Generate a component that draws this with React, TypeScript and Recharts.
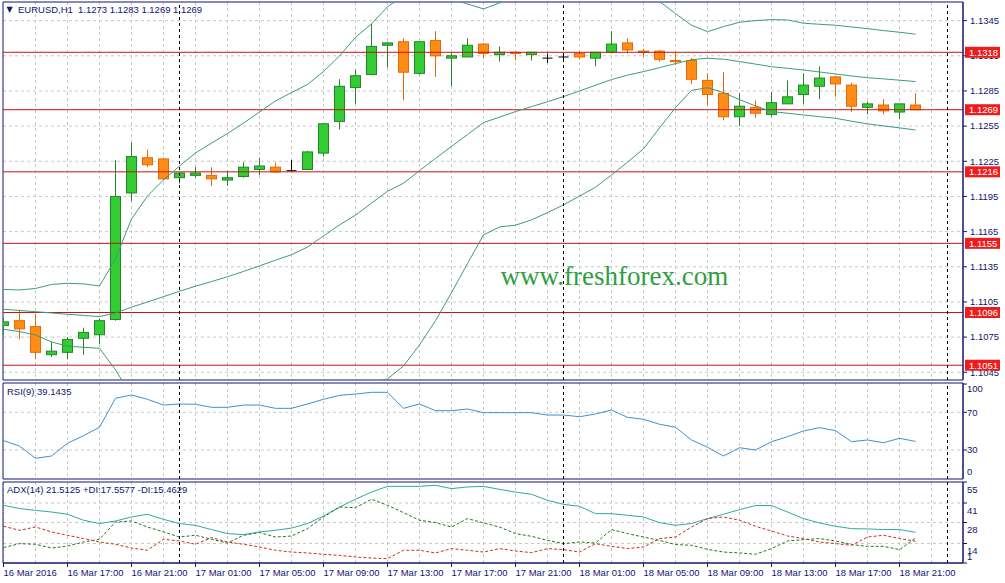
import React from "react";
import {
  ComposedChart,
  Bar,
  Line,
  XAxis,
  YAxis,
  CartesianGrid,
  ReferenceLine,
  ReferenceArea,
} from "recharts";

// EURUSD H1, 16 Mar 2016 13:00 .. 18 Mar 2016 22:00 (one entry per hour)
const open = [1.1085, 1.1089, 1.1084, 1.1060, 1.1062, 1.1074, 1.1077, 1.1090, 1.1198, 1.1228, 1.1227, 1.1211, 1.1213, 1.1213, 1.1209, 1.1212, 1.1218, 1.1220, 1.1217, 1.1218, 1.1232, 1.1259, 1.1288, 1.1299, 1.1324, 1.1327, 1.1300, 1.1328, 1.1313, 1.1314, 1.1325, 1.1316, 1.1318, 1.1316, 1.1313, 1.1314, 1.1317, 1.1313, 1.1318, 1.1326, 1.1319, 1.1319, 1.1311, 1.1311, 1.1294, 1.1283, 1.1263, 1.1271, 1.1265, 1.1274, 1.1282, 1.1289, 1.1297, 1.1290, 1.1271, 1.1273, 1.1267, 1.1273];
const high = [1.1091, 1.1098, 1.1095, 1.1071, 1.1075, 1.1083, 1.1091, 1.1226, 1.1241, 1.1235, 1.1228, 1.1215, 1.1220, 1.1220, 1.1217, 1.1224, 1.1228, 1.1224, 1.1226, 1.1234, 1.1257, 1.1295, 1.1303, 1.1342, 1.1327, 1.1330, 1.1327, 1.1336, 1.1318, 1.1330, 1.1326, 1.1323, 1.1318, 1.1318, 1.1317, 1.1316, 1.1319, 1.1318, 1.1336, 1.1330, 1.1321, 1.1320, 1.1318, 1.1313, 1.1300, 1.1301, 1.1283, 1.1277, 1.1284, 1.1294, 1.1300, 1.1306, 1.1297, 1.1292, 1.1276, 1.1278, 1.1274, 1.1283];
const low = [1.1077, 1.1073, 1.1056, 1.1058, 1.1056, 1.1060, 1.1069, 1.1089, 1.1191, 1.1220, 1.1209, 1.1206, 1.1211, 1.1204, 1.1204, 1.1211, 1.1213, 1.1215, 1.1216, 1.1218, 1.1229, 1.1252, 1.1274, 1.1299, 1.1305, 1.1277, 1.1299, 1.1297, 1.1289, 1.1314, 1.1313, 1.1310, 1.1311, 1.1311, 1.1309, 1.1312, 1.1312, 1.1306, 1.1317, 1.1317, 1.1314, 1.1310, 1.1307, 1.1291, 1.1273, 1.1260, 1.1255, 1.1262, 1.1263, 1.1274, 1.1274, 1.1278, 1.1280, 1.1267, 1.1265, 1.1265, 1.1261, 1.1269];
const close = [1.1088, 1.1082, 1.1062, 1.1063, 1.1073, 1.1079, 1.1089, 1.1195, 1.1229, 1.1222, 1.1210, 1.1215, 1.1215, 1.1210, 1.1211, 1.1220, 1.1221, 1.1216, 1.1217, 1.1233, 1.1257, 1.1289, 1.1298, 1.1323, 1.1326, 1.1301, 1.1327, 1.1315, 1.1315, 1.1324, 1.1317, 1.1318, 1.1317, 1.1318, 1.1313, 1.1314, 1.1314, 1.1318, 1.1325, 1.1320, 1.1318, 1.1312, 1.1310, 1.1295, 1.1282, 1.1263, 1.1272, 1.1266, 1.1275, 1.1280, 1.1290, 1.1296, 1.1291, 1.1272, 1.1274, 1.1268, 1.1274, 1.1269];

// Bollinger bands
const bbUpper = [1.11157, 1.11152, 1.11165, 1.11199, 1.11209, 1.11204, 1.11186, 1.11417, 1.11758, 1.11954, 1.12091, 1.12210, 1.12321, 1.12405, 1.12487, 1.12576, 1.12670, 1.12765, 1.12836, 1.12906, 1.13015, 1.13149, 1.13308, 1.13422, 1.13569, 1.13661, 1.13678, 1.13669, 1.13635, 1.13592, 1.13550, 1.13601, 1.13652, 1.13686, 1.13712, 1.13729, 1.13746, 1.13763, 1.13755, 1.13729, 1.13678, 1.13614, 1.13510, 1.13411, 1.13356, 1.13399, 1.13436, 1.13450, 1.13459, 1.13456, 1.13428, 1.13419, 1.13411, 1.13396, 1.13382, 1.13365, 1.13351, 1.13334];
const bbMiddle = [1.10988, 1.10977, 1.10967, 1.10956, 1.10945, 1.10935, 1.10925, 1.10956, 1.11005, 1.11050, 1.11095, 1.11141, 1.11184, 1.11224, 1.11265, 1.11310, 1.11358, 1.11406, 1.11453, 1.11518, 1.11613, 1.11707, 1.11790, 1.11893, 1.11994, 1.12063, 1.12170, 1.12274, 1.12377, 1.12478, 1.12580, 1.12627, 1.12674, 1.12716, 1.12758, 1.12802, 1.12850, 1.12899, 1.12947, 1.12985, 1.13015, 1.13049, 1.13083, 1.13117, 1.13129, 1.13121, 1.13101, 1.13079, 1.13057, 1.13043, 1.13029, 1.13012, 1.12995, 1.12978, 1.12963, 1.12953, 1.12942, 1.12930];
const bbLower = [1.10817, 1.10797, 1.10768, 1.10709, 1.10672, 1.10663, 1.10655, 1.10470, 1.10251, 1.10146, 1.10103, 1.10072, 1.10047, 1.10043, 1.10043, 1.10043, 1.10045, 1.10047, 1.10069, 1.10128, 1.10214, 1.10265, 1.10274, 1.10364, 1.10393, 1.10504, 1.10683, 1.10890, 1.11129, 1.11378, 1.11622, 1.11690, 1.11705, 1.11750, 1.11812, 1.11878, 1.11953, 1.12029, 1.12133, 1.12243, 1.12356, 1.12535, 1.12707, 1.12855, 1.12878, 1.12836, 1.12776, 1.12722, 1.12674, 1.12660, 1.12645, 1.12631, 1.12617, 1.12592, 1.12569, 1.12552, 1.12535, 1.12517];

// indicators
const rsi = [39.9, 34.2, 21.2, 23.6, 37.1, 45.2, 54.1, 84.9, 88.4, 83.8, 77.7, 78.8, 78.5, 75.3, 75.3, 77.7, 77.7, 74.2, 74.2, 78.8, 83.8, 88.0, 89.4, 91.2, 91.2, 74.2, 78.8, 71.7, 71.7, 73.5, 69.6, 69.6, 69.6, 69.6, 67.1, 67.1, 65.3, 68.2, 72.4, 64.7, 62.6, 57.3, 54.1, 40.6, 32.9, 23.6, 32.4, 30.0, 38.8, 44.1, 50.2, 53.7, 50.5, 38.8, 40.6, 37.7, 42.4, 39.1];
const adx = [39.5, 37.3, 36.1, 35.0, 33.5, 29.5, 27.3, 29.0, 31.7, 33.5, 30.1, 27.3, 26.1, 23.3, 20.6, 19.9, 21.7, 22.8, 24.3, 27.3, 32.3, 38.3, 43.5, 48.3, 52.1, 52.1, 52.1, 52.8, 50.6, 51.7, 52.1, 50.1, 48.3, 46.8, 42.8, 40.1, 38.8, 33.9, 33.9, 32.8, 31.7, 27.9, 26.1, 27.3, 30.6, 33.5, 36.6, 39.3, 39.3, 35.0, 30.6, 27.7, 25.5, 23.9, 23.7, 23.3, 23.3, 21.5];
const plusDI = [11.3, 13.9, 13.5, 11.0, 12.3, 15.0, 16.8, 28.3, 29.0, 25.0, 21.7, 18.3, 19.5, 16.8, 14.3, 19.5, 21.3, 18.3, 19.0, 23.9, 31.7, 38.3, 37.9, 43.5, 39.5, 34.6, 29.5, 27.9, 25.0, 30.6, 27.7, 25.0, 20.6, 18.8, 16.1, 13.9, 15.0, 14.3, 23.3, 20.6, 18.3, 16.1, 13.3, 12.8, 10.1, 8.3, 7.7, 6.8, 10.6, 15.7, 16.6, 17.3, 15.7, 13.3, 12.1, 12.1, 9.9, 17.6];
const minusDI = [25.5, 22.8, 25.0, 21.7, 19.5, 17.3, 15.0, 13.5, 11.0, 9.5, 16.8, 15.7, 13.5, 17.9, 15.0, 13.5, 11.7, 9.5, 8.3, 7.7, 6.8, 6.1, 5.0, 4.3, 3.9, 9.5, 9.5, 7.7, 10.6, 9.5, 8.3, 10.6, 9.0, 7.9, 10.6, 9.9, 8.3, 13.9, 12.1, 10.6, 11.7, 17.3, 18.3, 25.0, 30.6, 31.7, 29.5, 25.5, 22.3, 19.0, 17.3, 15.0, 13.9, 12.8, 18.3, 19.5, 17.3, 15.5];

// horizontal levels and axis ticks
const levels = [1.1318, 1.1269, 1.1216, 1.1155, 1.1096, 1.1051];
const priceTicks = [1.1045, 1.1075, 1.1105, 1.1135, 1.1165, 1.1195, 1.1225, 1.1255, 1.1285, 1.1315, 1.1345];
const rsiTicks = [30, 70, 100];
const rsiLevels = [30, 70];
const adxTicks = [1, 14, 28, 41, 55];
const adxGrid = [14, 28, 41];
const timeTicks = [0, 4, 8, 12, 16, 20, 24, 28, 32, 36, 40, 44, 48, 52, 56];
const timeLabels = ["16 Mar 2016", "16 Mar 17:00", "16 Mar 21:00", "17 Mar 01:00", "17 Mar 05:00", "17 Mar 09:00", "17 Mar 13:00", "17 Mar 17:00", "17 Mar 21:00", "18 Mar 01:00", "18 Mar 05:00", "18 Mar 09:00", "18 Mar 13:00", "18 Mar 17:00", "18 Mar 21:00"];
const daySeparators = [11, 35, 59];
const gridBars = Array.from({ length: 30 }, (_, k) => k * 2);

const xDomain: [number, number] = [-0.03125, 59.96875];
const priceDomain: [number, number] = [1.10384, 1.13609];
const rsiDomain: [number, number] = [-0.8, 101.1];
const adxDomain: [number, number] = [1, 55];

const FONT = "'Liberation Sans', Arial, sans-serif";
const NAVY = "#14146e";
const GRID = "#c8c8c8";
const BB = "#3d9b7b";
const RED = "#c81414";

const data = open.map((o, i) => ({
  i,
  open: o,
  high: high[i],
  low: low[i],
  close: close[i],
  range: [low[i], high[i]],
  upper: bbUpper[i],
  middle: bbMiddle[i],
  lower: bbLower[i],
  rsi: rsi[i],
  adx: adx[i],
  pdi: plusDI[i],
  mdi: minusDI[i],
}));

function Candle(props: any) {
  const { x, y, width, height, payload } = props;
  if (!payload || x == null) return null;
  const top = height >= 0 ? y : y + height;
  const h = Math.abs(height);
  const { open: o, close: c, high: hi, low: lo } = payload;
  const ppu = hi > lo ? h / (hi - lo) : 0;
  const py = (v: number) => top + (hi - v) * ppu;
  const cx = x + width / 2;
  const doji = o === c;
  const bull = c > o;
  const edge = doji ? "#000" : bull ? "#23862a" : "#e26a06";
  const fill = bull ? "#33cc33" : "#ff8c14";
  const bTop = py(Math.max(o, c));
  const bBot = py(Math.min(o, c));
  return (
    <g>
      <line x1={cx} x2={cx} y1={top} y2={top + h} stroke={edge} />
      {doji ? (
        <line x1={x} x2={x + width} y1={bTop} y2={bTop} stroke="#000" />
      ) : (
        <rect x={x} y={bTop} width={width} height={Math.max(bBot - bTop, 1)} fill={fill} stroke={edge} />
      )}
    </g>
  );
}

function LevelTag(props: any) {
  const { viewBox, text } = props;
  if (!viewBox) return null;
  const x = viewBox.x + viewBox.width + 2;
  return (
    <g>
      <rect x={x} y={viewBox.y - 5.5} width={35} height={11} fill="#ee1c1c" />
      <text x={x + 4} y={viewBox.y} dy="0.35em" fill="#fff" fontSize={9.5} fontFamily={FONT}>
        {text}
      </text>
    </g>
  );
}

const rsiTick = (props: any) => {
  const { x, y, payload } = props;
  const v = Number(payload.value);
  const dy = v >= 100 ? 5 : 0;
  return (
    <text x={x} y={y + dy} dy="0.35em" fill={NAVY} fontSize={9.5} fontFamily={FONT}>
      {String(v)}
    </text>
  );
};

const adxTick = (props: any) => {
  const { x, y, payload } = props;
  const v = payload.value;
  const dy = v === 1 ? -6 : 7.5;
  return (
    <text x={x} y={y + dy} dy="0.35em" fill={NAVY} fontSize={9.5} fontFamily={FONT}>
      {v}
    </text>
  );
};

const timeTick = (props: any) => {
  const { x, y, payload } = props;
  const k = timeTicks.indexOf(payload.value);
  return (
    <text x={x} y={y} dy="0.71em" textAnchor="start" fill={NAVY} fontSize={9.5} fontFamily={FONT}>
      {timeLabels[k]}
    </text>
  );
};

function daySepLines() {
  return daySeparators.map((d) => (
    <ReferenceLine key={"d" + d} x={d} stroke="#000" strokeDasharray="3 3" />
  ));
}

export default function App() {
  return (
    <div
      style={{
        position: "absolute",
        left: 0,
        top: 0,
        width: 1005,
        height: 583,
        background: "#fff",
        overflow: "hidden",
      }}
    >
      {/* ADX panel */}
      <div style={{ position: "absolute", left: 0, top: 481, width: 1005, height: 100 }}>
        <ComposedChart width={1005} height={100} data={data} margin={{ top: 1, right: 0, bottom: 0, left: 3 }}>
          <CartesianGrid stroke={GRID} strokeDasharray="3 3" verticalValues={gridBars} horizontalValues={adxGrid} />
          <XAxis
            type="number"
            dataKey="i"
            domain={xDomain}
            ticks={timeTicks}
            interval={0}
            allowDataOverflow
            height={18}
            tickSize={4}
            tickMargin={2}
            tick={timeTick}
            axisLine={{ stroke: NAVY }}
            tickLine={{ stroke: NAVY }}
          />
          <YAxis
            orientation="right"
            width={42}
            domain={adxDomain}
            ticks={adxTicks}
            interval={0}
            allowDataOverflow
            tickSize={4}
            tickMargin={0}
            tick={adxTick}
            axisLine={{ stroke: NAVY }}
            tickLine={{ stroke: NAVY }}
          />
          <Line dataKey="adx" stroke="#30a9a0" strokeWidth={1} dot={false} activeDot={false} isAnimationActive={false} />
          <Line dataKey="pdi" stroke="#1f7a1f" strokeWidth={1} strokeDasharray="3 2" dot={false} activeDot={false} isAnimationActive={false} />
          <Line dataKey="mdi" stroke="#c8321e" strokeWidth={1} strokeDasharray="3 2" dot={false} activeDot={false} isAnimationActive={false} />
          {daySepLines()}
          <ReferenceArea
            x1={xDomain[0]}
            x2={xDomain[1]}
            y1={adxDomain[0]}
            y2={adxDomain[1]}
            fill="none"
            stroke={NAVY}
            ifOverflow="visible"
          />
        </ComposedChart>
      </div>

      {/* RSI panel */}
      <div style={{ position: "absolute", left: 0, top: 382, width: 1005, height: 98 }}>
        <ComposedChart width={1005} height={98} data={data} margin={{ top: 1, right: 0, bottom: 1, left: 3 }}>
          <CartesianGrid stroke={GRID} strokeDasharray="3 3" verticalValues={gridBars} horizontalValues={rsiLevels} />
          <XAxis type="number" dataKey="i" domain={xDomain} ticks={gridBars} allowDataOverflow hide />
          <YAxis
            orientation="right"
            width={42}
            domain={rsiDomain}
            ticks={rsiTicks}
            interval={0}
            allowDataOverflow
            tickSize={4}
            tickMargin={0}
            tick={rsiTick}
            axisLine={{ stroke: NAVY }}
            tickLine={{ stroke: NAVY }}
          />
          <Line dataKey="rsi" stroke="#3f8fd2" strokeWidth={1} dot={false} activeDot={false} isAnimationActive={false} />
          {daySepLines()}
          <ReferenceArea
            x1={xDomain[0]}
            x2={xDomain[1]}
            y1={rsiDomain[0]}
            y2={rsiDomain[1]}
            fill="none"
            stroke={NAVY}
            ifOverflow="visible"
          />
        </ComposedChart>
      </div>

      {/* price panel */}
      <div style={{ position: "absolute", left: 0, top: 0, width: 1005, height: 381 }}>
        <ComposedChart width={1005} height={381} data={data} margin={{ top: 2, right: 0, bottom: 1, left: 3 }}>
          <CartesianGrid stroke={GRID} strokeDasharray="3 3" verticalValues={gridBars} horizontalValues={priceTicks} />
          <XAxis type="number" dataKey="i" domain={xDomain} ticks={gridBars} allowDataOverflow hide />
          <YAxis
            orientation="right"
            width={42}
            domain={priceDomain}
            ticks={priceTicks}
            interval={0}
            allowDataOverflow
            tickSize={4}
            tickMargin={3}
            tickFormatter={(v: number) => v.toFixed(4)}
            tick={{ fill: NAVY, fontSize: 9.5, fontFamily: FONT }}
            axisLine={{ stroke: NAVY }}
            tickLine={{ stroke: NAVY }}
          />
          {levels.map((lv) => (
            <ReferenceLine key={lv} y={lv} stroke={RED} />
          ))}
          <Line dataKey="upper" stroke={BB} strokeWidth={1} dot={false} activeDot={false} isAnimationActive={false} />
          <Line dataKey="middle" stroke={BB} strokeWidth={1} dot={false} activeDot={false} isAnimationActive={false} />
          <Line dataKey="lower" stroke={BB} strokeWidth={1} dot={false} activeDot={false} isAnimationActive={false} />
          <Bar dataKey="range" barSize={10} shape={(p: any) => <Candle {...p} />} isAnimationActive={false} />
          {daySepLines()}
          <ReferenceArea
            x1={xDomain[0]}
            x2={xDomain[1]}
            y1={priceDomain[0]}
            y2={priceDomain[1]}
            fill="none"
            stroke={NAVY}
            ifOverflow="visible"
          />
        </ComposedChart>
      </div>

      {/* level price tags, layered above the price axis labels */}
      <div style={{ position: "absolute", left: 0, top: 0, width: 1005, height: 381, pointerEvents: "none" }}>
        <ComposedChart width={1005} height={381} data={data} margin={{ top: 2, right: 42, bottom: 1, left: 3 }}>
          <XAxis type="number" dataKey="i" domain={xDomain} allowDataOverflow hide />
          <YAxis domain={priceDomain} allowDataOverflow hide />
          {levels.map((lv) => (
            <ReferenceLine key={lv} y={lv} stroke="none" label={<LevelTag text={lv.toFixed(4)} />} />
          ))}
        </ComposedChart>
      </div>

      {/* titles, RSI floor label and watermark */}
      <svg
        width={1005}
        height={583}
        style={{ position: "absolute", left: 0, top: 0, pointerEvents: "none" }}
      >
        <text x={6.5} y={9.5} dy="0.35em" fill={NAVY} fontSize={8} fontFamily="'DejaVu Sans', sans-serif">
          ▼
        </text>
        <text x={18} y={9.5} dy="0.35em" fill={NAVY} fontSize={9.5} fontFamily={FONT}>
          EURUSD,H1
        </text>
        <text x={78} y={9.5} dy="0.35em" fill={NAVY} fontSize={9.5} fontFamily={FONT}>
          1.1273 1.1283 1.1269 1.1269
        </text>
        <text x={7} y={391.7} dy="0.35em" fill={NAVY} fontSize={9.5} fontFamily={FONT}>
          RSI(9) 39.1435
        </text>
        <text x={967} y={472} dy="0.35em" fill={NAVY} fontSize={9.5} fontFamily={FONT}>
          0
        </text>
        <text x={7} y={490} dy="0.35em" fill={NAVY} fontSize={9.5} fontFamily={FONT}>
          ADX(14) 21.5125 +DI:17.5577 -DI:15.4629
        </text>
        <text x={500.5} y={285} fill="#2f9e3f" fontSize={27} fontFamily="'Liberation Serif', 'Times New Roman', serif">
          www.freshforex.com
        </text>
      </svg>
    </div>
  );
}
